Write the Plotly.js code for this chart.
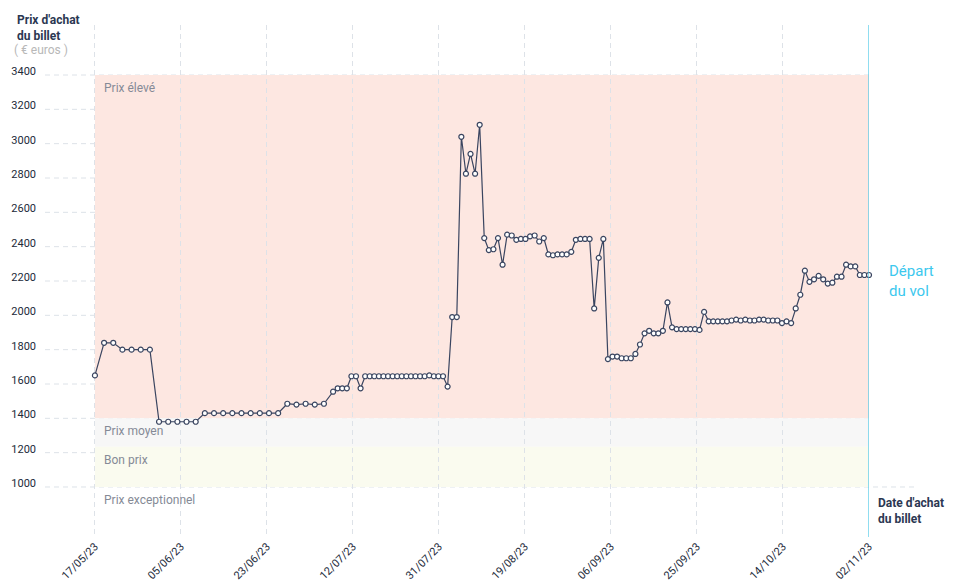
<!DOCTYPE html>
<html>
<head>
<meta charset="utf-8">
<script src="https://cdn.plot.ly/plotly-3.0.1.min.js"></script>
<style>
  html, body { margin: 0; padding: 0; background: #fff; }
  #chart { width: 958px; height: 585px; }
</style>
</head>
<body>
<div id="chart"></div>
<script>
// purchase dates (every 2 days until early July, then daily)
var dates = [
  '2023-05-17','2023-05-19','2023-05-21','2023-05-23','2023-05-25','2023-05-27','2023-05-29','2023-05-31',
  '2023-06-02','2023-06-04','2023-06-06','2023-06-08','2023-06-10','2023-06-12','2023-06-14','2023-06-16',
  '2023-06-18','2023-06-20','2023-06-22','2023-06-24','2023-06-26','2023-06-28','2023-06-30',
  '2023-07-02','2023-07-04','2023-07-06','2023-07-08','2023-07-09','2023-07-10','2023-07-11','2023-07-12',
  '2023-07-13','2023-07-14','2023-07-15','2023-07-16','2023-07-17','2023-07-18','2023-07-19','2023-07-20',
  '2023-07-21','2023-07-22','2023-07-23','2023-07-24','2023-07-25','2023-07-26','2023-07-27','2023-07-28',
  '2023-07-29','2023-07-30','2023-07-31',
  '2023-08-01','2023-08-02','2023-08-03','2023-08-04','2023-08-05','2023-08-06','2023-08-07','2023-08-08',
  '2023-08-09','2023-08-10','2023-08-11','2023-08-12','2023-08-13','2023-08-14','2023-08-15','2023-08-16',
  '2023-08-17','2023-08-18','2023-08-19','2023-08-20','2023-08-21','2023-08-22','2023-08-23','2023-08-24',
  '2023-08-25','2023-08-26','2023-08-27','2023-08-28','2023-08-29','2023-08-30','2023-08-31',
  '2023-09-01','2023-09-02','2023-09-03','2023-09-04','2023-09-05','2023-09-06','2023-09-07','2023-09-08',
  '2023-09-09','2023-09-10','2023-09-11','2023-09-12','2023-09-13','2023-09-14','2023-09-15','2023-09-16',
  '2023-09-17','2023-09-18','2023-09-19','2023-09-20','2023-09-21','2023-09-22','2023-09-23','2023-09-24',
  '2023-09-25','2023-09-26','2023-09-27','2023-09-28','2023-09-29','2023-09-30',
  '2023-10-01','2023-10-02','2023-10-03','2023-10-04','2023-10-05','2023-10-06','2023-10-07','2023-10-08',
  '2023-10-09','2023-10-10','2023-10-11','2023-10-12','2023-10-13','2023-10-14','2023-10-15','2023-10-16',
  '2023-10-17','2023-10-18','2023-10-19','2023-10-20','2023-10-21','2023-10-22','2023-10-23','2023-10-24',
  '2023-10-25','2023-10-26','2023-10-27','2023-10-28','2023-10-29','2023-10-30','2023-10-31',
  '2023-11-01','2023-11-02'
];

var prices = [
  1650,1840,1840,1800,1800,1800,1800,1380,
  1380,1380,1380,1380,1430,1430,1430,1430,
  1430,1430,1430,1430,1430,1485,1480,
  1485,1480,1485,1555,1575,1575,1575,1645,
  1645,1575,1645,1645,1645,1645,1645,1645,
  1645,1645,1645,1645,1645,1645,1645,1645,
  1650,1645,1645,
  1645,1585,1990,1990,3040,2825,2940,2825,
  3110,2450,2380,2385,2450,2295,2470,2465,
  2440,2445,2445,2460,2465,2430,2450,2355,
  2350,2355,2355,2355,2370,2440,2445,
  2445,2445,2040,2335,2445,1745,1760,1760,
  1750,1750,1750,1775,1830,1895,1910,1895,
  1895,1910,2075,1930,1920,1920,1920,1920,
  1920,1915,2020,1965,1965,1965,
  1965,1965,1970,1975,1970,1975,1970,1970,
  1975,1975,1970,1970,1970,1955,1965,1955,
  2040,2120,2260,2195,2210,2230,2210,2185,
  2190,2225,2225,2295,2285,2285,2235,
  2235,2235
];

var tickLabels = ['17/05/23','05/06/23','23/06/23','12/07/23','31/07/23','19/08/23','06/09/23','25/09/23','14/10/23','02/11/23'];
var yTicks = [1000,1200,1400,1600,1800,2000,2200,2400,2600,2800,3000,3200,3400];

// price zones
var zoneNames = ['Prix élevé', 'Prix moyen', 'Bon prix', 'Prix exceptionnel'];
var zoneTop = [3400, 1400, 1235, 1000];
var zoneBottom = [1400, 1235, 1000, null];
var zoneColors = ['#fde7e1', '#f7f7f7', '#fafbef', null];

var DAY = 86400000;
var t0 = new Date(dates[0]).getTime();
var t1 = new Date(dates[dates.length - 1]).getTime();
var left = t0 - 10.9 * DAY;

// ticks split the purchase window in equal parts
var tickvals = tickLabels.map(function (_, i) {
  return new Date(t0 + (t1 - t0) * i / (tickLabels.length - 1)).toISOString();
});

var navy = '#2b3752';

var shapes = [];
var annotations = [];
zoneNames.forEach(function (name, i) {
  if (zoneColors[i]) {
    shapes.push({
      type: 'rect', xref: 'x', yref: 'y', layer: 'below',
      x0: dates[0], x1: dates[dates.length - 1], y0: zoneBottom[i], y1: zoneTop[i],
      fillcolor: zoneColors[i], line: {width: 0}
    });
  }
  annotations.push({
    xref: 'x', yref: 'y', x: dates[0], y: zoneTop[i], xanchor: 'left', yanchor: 'top',
    xshift: 7, yshift: -4, showarrow: false, text: name,
    font: {family: 'Roboto, sans-serif', size: 12, color: '#858a96'}
  });
});

// horizontal dashed grid
yTicks.forEach(function (v) {
  shapes.push({
    type: 'line', xref: 'paper', yref: 'y', layer: 'below',
    x0: 0, x1: v === 1000 ? 1.059 : 1, y0: v, y1: v,
    line: {color: '#dde2e8', width: 1, dash: '5px,4px'}
  });
});

// flight departure line
shapes.push({
  type: 'line', xref: 'x', yref: 'paper', x0: dates[dates.length - 1], x1: dates[dates.length - 1],
  y0: 0, y1: 1, line: {color: '#47c6e6', width: 1.2}
});

annotations.push(
  {xref: 'paper', yref: 'paper', x: -0.037, y: 1.027, xanchor: 'left', yanchor: 'top', showarrow: false, align: 'left',
   text: "<b>Prix d'achat<br>du billet</b>", font: {family: 'Roboto, sans-serif', size: 12, color: navy}},
  {xref: 'paper', yref: 'paper', x: -0.04, y: 0.969, xanchor: 'left', yanchor: 'top', showarrow: false, align: 'left',
   text: '( € euros )', font: {family: 'Roboto, sans-serif', size: 12, color: '#b8b8b8'}},
  {xref: 'paper', yref: 'paper', x: 1.022, y: 0.50, xanchor: 'left', yanchor: 'middle', showarrow: false, align: 'left',
   text: 'Départ<br>du vol', font: {family: 'Roboto, sans-serif', size: 15, color: '#3cc8ee'}},
  {xref: 'paper', yref: 'paper', x: 1.008, y: 0.05, xanchor: 'left', yanchor: 'middle', showarrow: false, align: 'left',
   text: "<b>Date d'achat<br>du billet</b>", font: {family: 'Roboto, sans-serif', size: 12, color: navy}}
);

var trace = {
  x: dates,
  y: prices,
  type: 'scatter',
  mode: 'lines+markers',
  cliponaxis: false,
  line: {color: '#3a4560', width: 1.2},
  marker: {symbol: 'circle', size: 5, color: '#ffffff', line: {color: '#3a4560', width: 1.2}},
  hoverinfo: 'x+y'
};

var layout = {
  width: 958,
  height: 585,
  margin: {l: 45, r: 89, t: 25, b: 48},
  paper_bgcolor: '#ffffff',
  plot_bgcolor: 'rgba(0,0,0,0)',
  showlegend: false,
  font: {family: 'Roboto, sans-serif', color: '#222a3a', size: 11},
  xaxis: {
    type: 'date',
    range: [new Date(left).toISOString(), new Date(t1).toISOString()],
    tickmode: 'array',
    tickvals: tickvals,
    ticktext: tickLabels,
    tickangle: -45,
    ticks: '',
    showgrid: true,
    gridcolor: '#dde2e8',
    griddash: '5px,4px',
    zeroline: false,
    showline: false,
    tickfont: {size: 11, color: '#222a3a'}
  },
  yaxis: {
    range: [708.7, 3691.3],
    tickmode: 'array',
    tickvals: yTicks,
    ticks: '',
    showgrid: false,
    zeroline: false,
    showline: false,
    ticklabelshift: -4,
    ticklabelstandoff: 8,
    tickfont: {size: 11, color: '#222a3a'}
  },
  shapes: shapes,
  annotations: annotations
};

Plotly.newPlot('chart', [trace], layout, {displayModeBar: false, staticPlot: true});
</script>
</body>
</html>
